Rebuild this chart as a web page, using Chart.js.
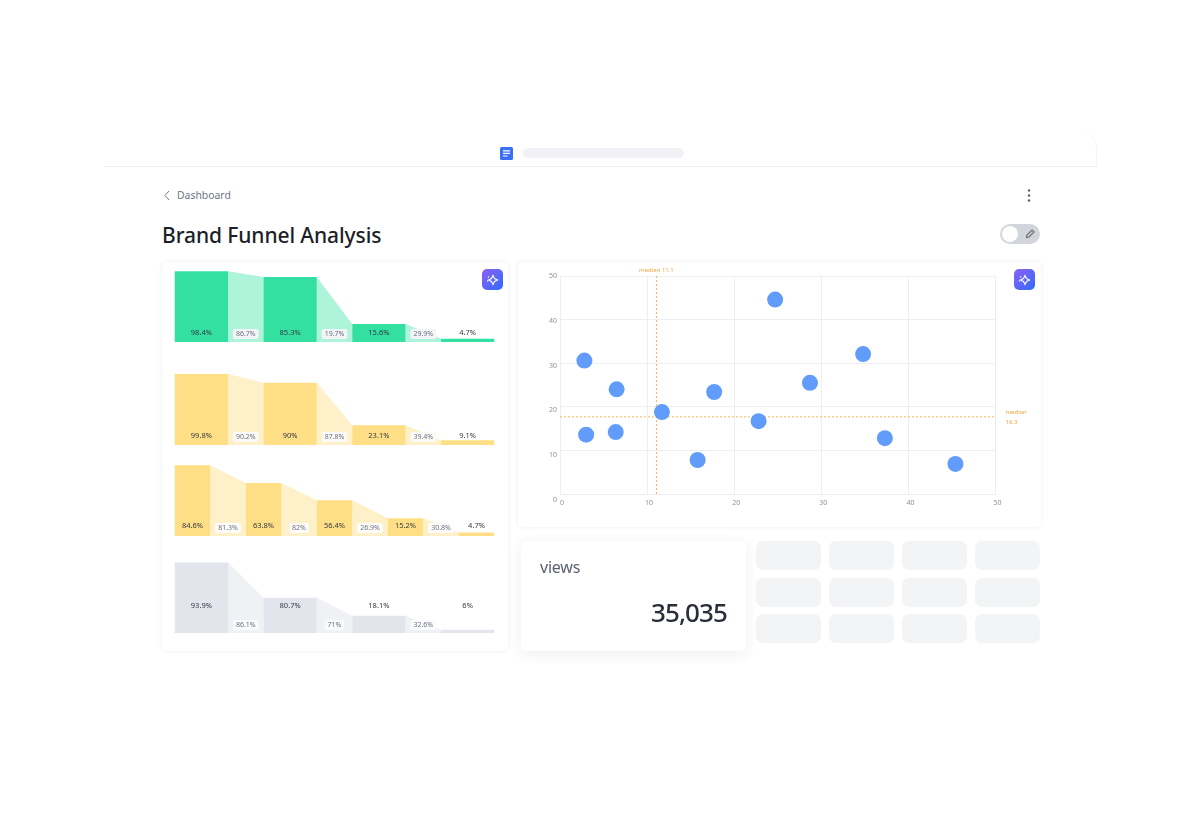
<!DOCTYPE html>
<html>
<head>
<meta charset="utf-8">
<title>Brand Funnel Analysis</title>
<script src="https://cdn.jsdelivr.net/npm/chart.js@4"></script>
<style>
  html, body { margin: 0; padding: 0; background: #fff; }
  body { width: 1200px; height: 822px; position: relative; overflow: hidden; font-family: "Noto Sans", sans-serif; }
  .abs { position: absolute; }
  .frame { left: 104px; top: 130px; width: 992px; height: 36px; border-bottom: 1px solid #eeeff1; border-right: 1px solid #f4f5f6; border-top-right-radius: 18px; }
  .urlbar { left: 523px; top: 148px; width: 161px; height: 10px; border-radius: 5px; background: #f0f2f5; }
  .back { left: 177px; top: 187px; font-size: 10.4px; line-height: 16px; color: #6f7483; }
  h1 { position: absolute; left: 162px; top: 220px; margin: 0; font-size: 21px; line-height: 30px; font-weight: 500; color: #1c1f29; letter-spacing: -.1px; }
  .card { background: #fff; border-radius: 5px; box-shadow: 0 0 4px rgba(40, 50, 80, .09); }
  .tile { background: #f3f4f6; border-radius: 7px; width: 65px; height: 28.5px; }
  .spark { width: 21px; height: 21px; border-radius: 5px; background: linear-gradient(135deg, #8f60f3, #2f6cff); }
  .spark svg { display: block; }
  .views { left: 521px; top: 541px; width: 225px; height: 110px; border-radius: 5px; background: #fff; box-shadow: 0 3px 14px rgba(40, 50, 80, .08); }
  .views .name { position: absolute; left: 19px; top: 14px; font-size: 16px; line-height: 24px; color: #5a6070; letter-spacing: -.2px; }
  .views .num { position: absolute; right: 19px; top: 52px; font-size: 26px; line-height: 38px; font-weight: 500; color: #2a2e3a; letter-spacing: -.9px; }
  canvas { position: absolute; }
</style>
</head>
<body>

<div class="abs frame"></div>
<svg class="abs" style="left:500px;top:147px" width="13" height="13">
  <rect width="13" height="13" rx="1.5" fill="#3b6ff5"/>
  <path d="M3 3.8h7M3 6.4h7M3 9h4.5" stroke="#fff" stroke-width="1.2"/>
</svg>
<div class="abs urlbar"></div>

<svg class="abs" style="left:163px;top:190px" width="8" height="11">
  <path d="M6 1 L2 5.5 L6 10" fill="none" stroke="#777c8a" stroke-width="1"/>
</svg>
<div class="abs back">Dashboard</div>
<h1>Brand Funnel Analysis</h1>

<svg class="abs" style="left:1025px;top:188px" width="8" height="15">
  <circle cx="4" cy="2.5" r="1.2" fill="#5c606b"/>
  <circle cx="4" cy="7.5" r="1.2" fill="#5c606b"/>
  <circle cx="4" cy="12.5" r="1.2" fill="#5c606b"/>
</svg>

<svg class="abs" style="left:999px;top:223px" width="42" height="22">
  <rect x="1" y="1" width="40" height="20" rx="10" fill="#d2d5db"/>
  <circle cx="11" cy="11" r="8" fill="#fff"/>
  <path d="M27.5 14.5 L28 12 L33 7 L35 9 L30 14 Z" fill="none" stroke="#6a6e78" stroke-width="1.2"/>
</svg>

<div class="abs card" style="left:162px;top:262px;width:346px;height:389px"></div>
<div class="abs card" style="left:518px;top:262px;width:523px;height:265px"></div>

<canvas id="funil1" style="left:157px;top:271px" width="355" height="71"></canvas>
<canvas id="funil2" style="left:157px;top:374px" width="355" height="71"></canvas>
<canvas id="funil3" style="left:157px;top:465px" width="355" height="71"></canvas>
<canvas id="funil4" style="left:157px;top:562px" width="355" height="71"></canvas>
<canvas id="dispersao" style="left:519px;top:263px" width="522" height="264"></canvas>

<div class="abs spark" style="left:482px;top:269px">
  <svg width="21" height="21"><path d="M11 6.5 L12.5 9.5 L15.5 11 L12.5 12.5 L11 15.5 L9.5 12.5 L6.5 11 L9.5 9.5 Z" fill="none" stroke="#fff" stroke-width="1.1"/><circle cx="6.5" cy="8" r=".8" fill="#fff"/><circle cx="5.5" cy="12" r=".7" fill="#fff"/></svg>
</div>
<div class="abs spark" style="left:1014px;top:269px">
  <svg width="21" height="21"><path d="M11 6.5 L12.5 9.5 L15.5 11 L12.5 12.5 L11 15.5 L9.5 12.5 L6.5 11 L9.5 9.5 Z" fill="none" stroke="#fff" stroke-width="1.1"/><circle cx="6.5" cy="8" r=".8" fill="#fff"/><circle cx="5.5" cy="12" r=".7" fill="#fff"/></svg>
</div>

<div class="abs views">
  <div class="name">views</div>
  <div class="num">35,035</div>
</div>

<div class="abs tile" style="left:756px;top:541px"></div>
<div class="abs tile" style="left:829px;top:541px"></div>
<div class="abs tile" style="left:902px;top:541px"></div>
<div class="abs tile" style="left:975px;top:541px"></div>
<div class="abs tile" style="left:756px;top:578px"></div>
<div class="abs tile" style="left:829px;top:578px"></div>
<div class="abs tile" style="left:902px;top:578px"></div>
<div class="abs tile" style="left:975px;top:578px"></div>
<div class="abs tile" style="left:756px;top:614px"></div>
<div class="abs tile" style="left:829px;top:614px"></div>
<div class="abs tile" style="left:902px;top:614px"></div>
<div class="abs tile" style="left:975px;top:614px"></div>

<script>
// bar heights as drawn, labels as printed (they do not agree in the source picture)
const alturas1 = [99.5, 91.5, 25.4, 4.6];
const rotulos1 = ["98.4%", "85.3%", "15.6%", "4.7%"];
const taxas1 = ["86.7%", "19.7%", "29.9%"];

const alturas2 = [100, 87.7, 27.7, 6.6];
const rotulos2 = ["99.8%", "90%", "23.1%", "9.1%"];
const taxas2 = ["90.2%", "87.8%", "39.4%"];

const alturas3 = [99.6, 74.6, 50.3, 24.9, 4.8];
const rotulos3 = ["84.6%", "63.8%", "56.4%", "15.2%", "4.7%"];
const taxas3 = ["81.3%", "82%", "26.9%", "30.8%"];

const alturas4 = [99.4, 49.7, 24.4, 4.6];
const rotulos4 = ["93.9%", "80.7%", "18.1%", "6%"];
const taxas4 = ["86.1%", "71%", "32.6%"];

const pontosX = [2.8, 6.5, 3.0, 6.4, 11.7, 15.8, 17.7, 22.8, 24.7, 28.7, 34.8, 37.3, 45.4];
const pontosY = [30.6, 24.0, 13.6, 14.2, 18.8, 7.8, 23.4, 16.7, 44.6, 25.5, 32.1, 12.8, 6.9];

const medianaX = 11.07;
const medianaY = 17.7;
const rotuloMedianaX = "median 11.1";
const rotuloMedianaY = ["median", "16.3"];

const FONTE = '"Noto Sans", sans-serif';
const LARANJA = "#f7b65a";
const GRADE = "#eceef2";

// connector bands plus the two kinds of labels, positioned from the bar elements
const pluginFunil = {
  id: "funil",
  beforeDatasetsDraw(chart, args, opts) {
    const ctx = chart.ctx;
    const barras = chart.getDatasetMeta(0).data;
    const base = chart.scales.y.getPixelForValue(0);
    ctx.save();
    ctx.fillStyle = opts.corFaixa;
    for (let i = 0; i < barras.length - 1; i++) {
      const a = barras[i], b = barras[i + 1];
      ctx.beginPath();
      ctx.moveTo(a.x + a.width / 2, a.y);
      ctx.lineTo(b.x - b.width / 2, b.y);
      ctx.lineTo(b.x - b.width / 2, base);
      ctx.lineTo(a.x + a.width / 2, base);
      ctx.closePath();
      ctx.fill();
    }
    ctx.restore();
  },
  afterDatasetsDraw(chart, args, opts) {
    const ctx = chart.ctx;
    const barras = chart.getDatasetMeta(0).data;
    const base = chart.scales.y.getPixelForValue(0);
    ctx.save();
    ctx.textAlign = "center";
    ctx.textBaseline = "middle";
    ctx.font = "7px " + FONTE;
    opts.taxas.forEach(function (t, i) {
      const a = barras[i], b = barras[i + 1];
      const cx = (a.x + a.width / 2 + b.x - b.width / 2) / 2;
      const cy = base - 8;
      const w = ctx.measureText(t).width + 6;
      ctx.fillStyle = opts.corPilula;
      ctx.beginPath();
      ctx.roundRect(cx - w / 2, cy - 5, w, 10, 2);
      ctx.fill();
      ctx.fillStyle = "#6d7281";
      ctx.fillText(t, cx, cy);
    });
    ctx.font = "7.5px " + FONTE;
    ctx.fillStyle = "#343945";
    opts.rotulos.forEach(function (r, i) {
      ctx.fillText(r, barras[i].x, base - opts.alturaRotulo);
    });
    ctx.restore();
  }
};

function criarFunil(id, alturas, rotulos, taxas, cor, corFaixa, corPilula, alturaRotulo, larguraBarra) {
  return new Chart(document.getElementById(id), {
    type: "bar",
    data: {
      labels: rotulos,
      datasets: [{
        data: alturas,
        backgroundColor: cor,
        borderWidth: 0,
        barPercentage: larguraBarra,
        categoryPercentage: 1
      }]
    },
    options: {
      responsive: false,
      animation: false,
      events: [],
      layout: { padding: 0 },
      scales: {
        x: { display: false },
        y: { display: false, min: 0, max: 100 }
      },
      plugins: {
        legend: { display: false },
        tooltip: { enabled: false },
        funil: { taxas: taxas, rotulos: rotulos, corFaixa: corFaixa, corPilula: corPilula, alturaRotulo: alturaRotulo }
      }
    },
    plugins: [pluginFunil]
  });
}

criarFunil("funil1", alturas1, rotulos1, taxas1, "#33e0a1", "#adf4da", "#f3f4f7", 9, 0.6);
criarFunil("funil2", alturas2, rotulos2, taxas2, "#ffdf85", "#fef0c8", "#fbfaf6", 9.5, 0.6);
criarFunil("funil3", alturas3, rotulos3, taxas3, "#ffdf85", "#fef0c8", "#fdfcf8", 10.5, 0.5);
criarFunil("funil4", alturas4, rotulos4, taxas4, "#e2e5ec", "#eff1f5", "#fafbfc", 27, 0.6);

// scatter: the y labels in the source drift below their grid lines, more towards 0
const pluginDispersao = {
  id: "dispersao",
  afterLayout(chart) {
    chart.scales.y.getLabelItems().forEach(function (item, i) {
      const v = chart.scales.y.ticks[i].value;
      item.options.translation[1] += (50 - v) * 0.12;
    });
  },
  afterDraw(chart) {
    const ctx = chart.ctx;
    const xs = chart.scales.x, ys = chart.scales.y;
    ctx.save();
    ctx.fillStyle = "#eea63f";
    ctx.font = "6px " + FONTE;
    ctx.textBaseline = "middle";
    ctx.textAlign = "center";
    ctx.fillText(rotuloMedianaX, xs.getPixelForValue(medianaX), chart.chartArea.top - 6);
    ctx.textAlign = "left";
    ctx.fillText(rotuloMedianaY[0], chart.chartArea.right + 10, ys.getPixelForValue(medianaY) - 5);
    ctx.fillText(rotuloMedianaY[1], chart.chartArea.right + 10, ys.getPixelForValue(medianaY) + 5);
    ctx.restore();
  }
};

new Chart(document.getElementById("dispersao"), {
  type: "scatter",
  data: {
    datasets: [
      {
        data: pontosX.map((x, i) => ({ x: x, y: pontosY[i] })),
        backgroundColor: "#619cfa",
        borderWidth: 0,
        pointRadius: 8,
        order: 1
      },
      {
        data: [{ x: medianaX, y: 0 }, { x: medianaX, y: 50 }],
        showLine: true,
        borderColor: LARANJA,
        borderWidth: 1,
        borderDash: [2, 2],
        pointRadius: 0,
        order: 2
      },
      {
        data: [{ x: 0, y: medianaY }, { x: 50, y: medianaY }],
        showLine: true,
        borderColor: LARANJA,
        borderWidth: 1,
        borderDash: [2, 2],
        pointRadius: 0,
        order: 2
      }
    ]
  },
  options: {
    responsive: false,
    animation: false,
    events: [],
    layout: { padding: { left: 0, top: 13, right: 45.5, bottom: 0 } },
    scales: {
      x: {
        min: 0,
        max: 50,
        afterFit(s) { s.height = 33; },
        grid: { color: GRADE, drawTicks: false },
        border: { color: GRADE },
        ticks: { stepSize: 10, maxRotation: 0, padding: 5, labelOffset: 2, color: "#8b909c", font: { size: 7, family: FONTE } }
      },
      y: {
        min: 0,
        max: 50,
        afterFit(s) { s.width = 41; },
        grid: { color: GRADE, drawTicks: false },
        border: { color: GRADE },
        ticks: { stepSize: 10, padding: 3, color: "#8b909c", font: { size: 7, family: FONTE } }
      }
    },
    plugins: {
      legend: { display: false },
      tooltip: { enabled: false }
    }
  },
  plugins: [pluginDispersao]
});
</script>
</body>
</html>
